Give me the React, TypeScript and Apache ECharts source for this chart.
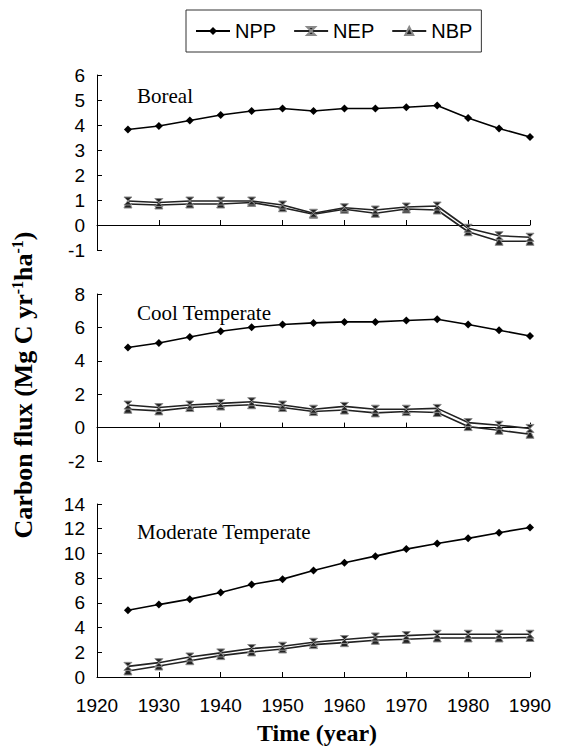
import React, { useEffect, useRef } from "react";
import * as echarts from "echarts";

const years = [1925, 1930, 1935, 1940, 1945, 1950, 1955, 1960, 1965, 1970, 1975, 1980, 1985, 1990];

const borealNPP = [3.82, 3.96, 4.18, 4.4, 4.56, 4.66, 4.56, 4.66, 4.66, 4.71, 4.78, 4.28, 3.86, 3.52];
const borealNEP = [0.96, 0.9, 0.96, 0.96, 0.96, 0.8, 0.47, 0.69, 0.6, 0.72, 0.76, -0.13, -0.43, -0.49];
const borealNBP = [0.84, 0.8, 0.84, 0.84, 0.9, 0.69, 0.43, 0.63, 0.47, 0.64, 0.6, -0.27, -0.65, -0.65];

const coolNPP = [4.8, 5.07, 5.43, 5.77, 6.01, 6.17, 6.27, 6.33, 6.33, 6.41, 6.49, 6.17, 5.83, 5.49];
const coolNEP = [1.35, 1.2, 1.35, 1.45, 1.55, 1.35, 1.1, 1.27, 1.1, 1.1, 1.15, 0.3, 0.14, -0.05];
const coolNBP = [1.1, 1.0, 1.2, 1.29, 1.37, 1.2, 0.96, 1.05, 0.88, 0.96, 0.9, 0.06, -0.16, -0.4];

const modNPP = [5.4, 5.86, 6.3, 6.84, 7.49, 7.92, 8.62, 9.24, 9.78, 10.35, 10.81, 11.22, 11.68, 12.1];
const modNEP = [0.86, 1.16, 1.62, 1.95, 2.3, 2.49, 2.81, 3.03, 3.24, 3.35, 3.46, 3.46, 3.46, 3.46];
const modNBP = [0.49, 0.89, 1.32, 1.73, 2.03, 2.27, 2.62, 2.78, 2.97, 3.05, 3.16, 3.16, 3.16, 3.2];

const panelNames = ["Boreal", "Cool Temperate", "Moderate Temperate"];
const yMins = [-1, -2, 0];
const yMaxs = [6, 8, 14];
const yIntervals = [1, 2, 2];
const xTicks = { min: 1920, max: 1990, interval: 10 };

const SANS = "'Liberation Sans', Arial, sans-serif";
const SERIF = "'Liberation Serif', 'Times New Roman', serif";

export default function App() {
  const ref = useRef<HTMLDivElement>(null);
  useEffect(() => {
    if (!ref.current) return;
    const chart = echarts.init(ref.current, undefined, { renderer: "svg" });

    const grids = [
      { left: 97, right: 36, top: 75, height: 175 },
      { left: 97, right: 36, top: 294, height: 167 },
      { left: 97, right: 36, top: 504, height: 173 },
    ];
    const panelData = [
      [borealNPP, borealNEP, borealNBP],
      [coolNPP, coolNEP, coolNBP],
      [modNPP, modNEP, modNBP],
    ];
    const labelY = [97, 314, 533];

    const xAxis = grids.map((_, i) => ({
      type: "value",
      gridIndex: i,
      min: xTicks.min,
      max: xTicks.max,
      interval: xTicks.interval,
      axisLine: { show: true, onZero: true, lineStyle: { color: "#000", width: 1 } },
      axisTick: { show: true, inside: true, length: 5, lineStyle: { color: "#000" } },
      axisLabel: {
        show: i === 2,
        color: "#000",
        fontSize: 19,
        fontFamily: SANS,
        margin: 19,
        formatter: (v: number) => String(v),
      },
      splitLine: { show: false },
    }));

    const yAxis = grids.map((_, i) => ({
      type: "value",
      gridIndex: i,
      min: yMins[i],
      max: yMaxs[i],
      interval: yIntervals[i],
      axisLine: { show: true, onZero: false, lineStyle: { color: "#000", width: 1 } },
      axisTick: { show: true, inside: true, length: 5, lineStyle: { color: "#000" } },
      axisLabel: { color: "#000", fontSize: 19, fontFamily: SANS, margin: 12 },
      splitLine: { show: false },
    }));

    const names = ["NPP", "NEP", "NBP"];
    const symbols = ["diamond", "path://M0,0L10,0L0,10L10,10Z", "triangle"];
    const colors = ["#000", "#222", "#222"];
    const sizes = [8, 8, 8];

    const series: any[] = [];
    panelData.forEach((arrs, p) => {
      arrs.forEach((arr, k) => {
        series.push({
          type: "line",
          name: names[k],
          xAxisIndex: p,
          yAxisIndex: p,
          data: years.map((y, j) => [y, arr[j]]),
          symbol: symbols[k],
          symbolSize: sizes[k],
          showSymbol: true,
          lineStyle: { color: colors[k], width: 1.6 },
          itemStyle: {
            color: colors[k],
            borderColor: k === 0 ? "#000" : "#8a8a8a",
            borderWidth: k === 0 ? 0 : 1,
          },
          z: 3 - k,
        });
      });
    });

    const graphic: any[] = panelNames.map((t, i) => ({
      type: "text",
      left: 137,
      top: labelY[i] - 12,
      style: { text: t, fontFamily: SERIF, fontSize: 21, fill: "#000" },
    }));
    graphic.push({
      type: "text",
      x: 317,
      y: 733,
      style: {
        text: "Time (year)",
        fontFamily: SERIF,
        fontSize: 24,
        fontWeight: "bold",
        fill: "#000",
        align: "center",
        verticalAlign: "middle",
      },
    });
    graphic.push({
      type: "text",
      x: 23,
      y: 385,
      rotation: Math.PI / 2,
      style: {
        text: "Carbon flux (Mg C yr{sup|-1}ha{sup|-1})",
        fontFamily: SERIF,
        fontSize: 26,
        fontWeight: "bold",
        fill: "#000",
        align: "center",
        verticalAlign: "middle",
        rich: {
          sup: {
            fontFamily: SERIF,
            fontSize: 16,
            fontWeight: "bold",
            fill: "#000",
            verticalAlign: "top",
            padding: [0, 0, 12, 0],
          },
        },
      },
    });

    chart.setOption({
      animation: false,
      backgroundColor: "#fff",
      legend: {
        data: names,
        left: 186,
        top: 10,
        borderColor: "#333",
        borderWidth: 1,
        padding: [11, 9, 11, 9],
        itemWidth: 34,
        itemHeight: 10,
        itemGap: 17,
        textStyle: { fontFamily: SANS, fontSize: 20, color: "#000" },
      },
      grid: grids,
      xAxis,
      yAxis,
      series,
      graphic,
    });
    return () => chart.dispose();
  }, []);
  return (
    <div
      ref={ref}
      style={{ position: "fixed", left: 0, top: 0, width: 566, height: 753, background: "#fff" }}
    />
  );
}
